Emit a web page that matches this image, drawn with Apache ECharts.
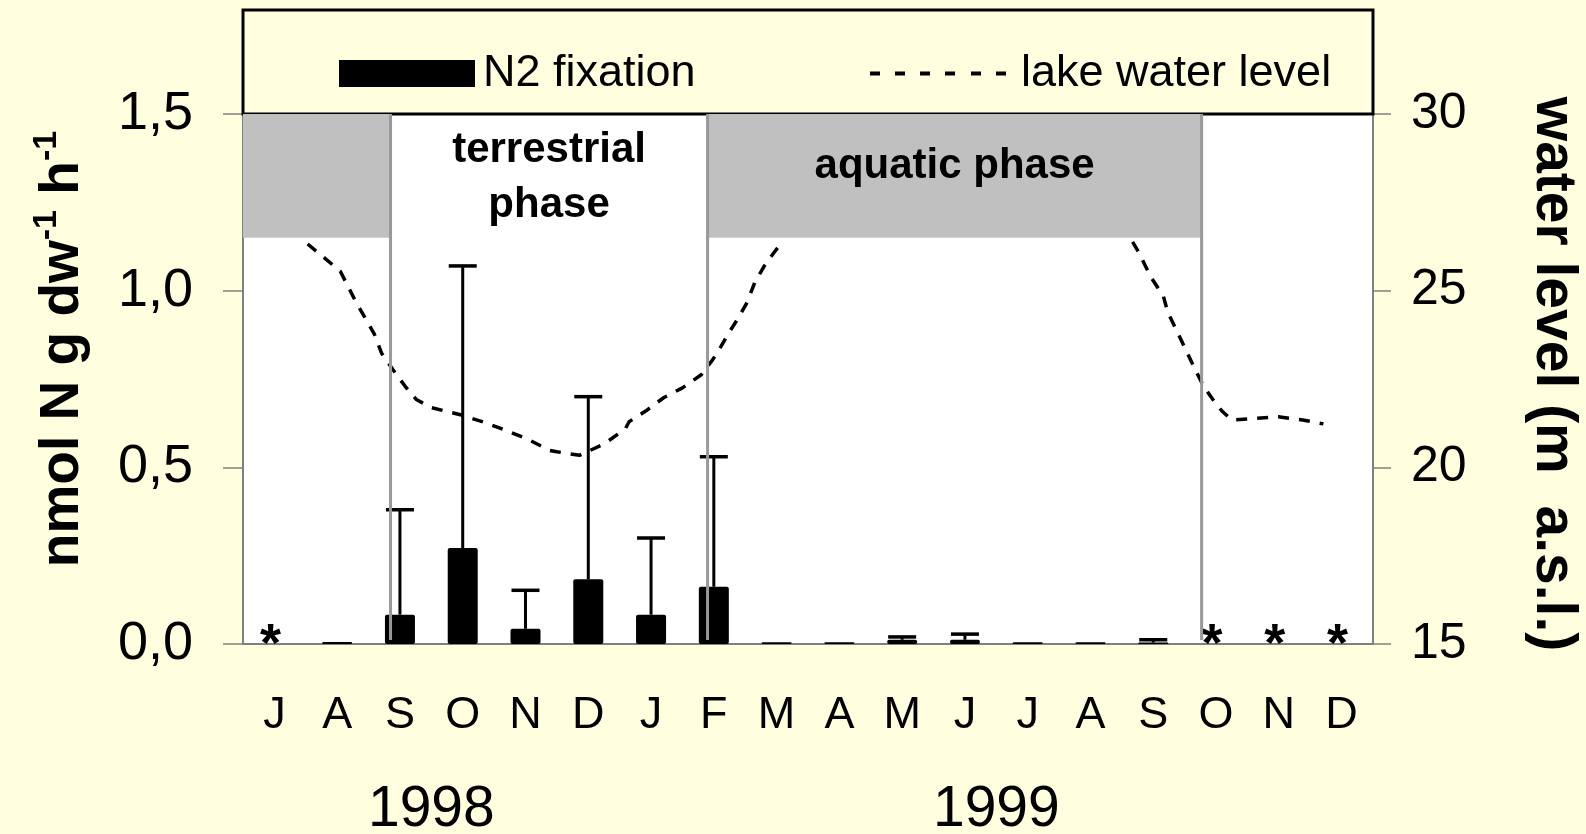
<!DOCTYPE html>
<html>
<head>
<meta charset="utf-8">
<script src="https://cdn.jsdelivr.net/npm/echarts@6/dist/echarts.min.js"></script>
<style>
html, body { margin: 0; padding: 0; background: #FFFFE0; }
#main { width: 1586px; height: 834px; }
</style>
</head>
<body>
<div id="main"></div>
<script>
var months = ['J', 'A', 'S', 'O', 'N', 'D', 'J', 'F', 'M', 'A', 'M', 'J', 'J', 'A', 'S', 'O', 'N', 'D'];
var n2Fixation = [null, 0.006, 0.083, 0.272, 0.043, 0.183, 0.083, 0.162, 0.005, 0.005, 0.012, 0.012, 0.005, 0.005, 0.004, null, null, null];
var n2ErrorTop = [null, null, 0.38, 1.07, 0.152, 0.70, 0.30, 0.53, null, null, 0.02, 0.028, null, null, 0.012, null, null, null];
var noDataMonths = [0, 15, 16, 17];

// lake water level (m a.s.l.), x in months from July 1998
var levelFalling = [
    [1.03, 26.32], [1.24, 26.01], [1.55, 25.55], [1.79, 24.71], [2.09, 23.78], [2.21, 23.22],
    [2.39, 22.76], [2.58, 22.30], [2.76, 21.92], [3.00, 21.69], [3.48, 21.48], [3.85, 21.27],
    [4.15, 21.07], [4.52, 20.81], [4.88, 20.48], [5.00, 20.44], [5.36, 20.34], [5.76, 20.67],
    [6.09, 21.09], [6.15, 21.29], [6.42, 21.60], [6.70, 21.97], [7.00, 22.25], [7.30, 22.62],
    [7.48, 23.04], [7.61, 23.41], [7.73, 23.78], [7.88, 24.20], [8.03, 24.67], [8.15, 25.22],
    [8.30, 25.69], [8.45, 26.06], [8.55, 26.29]
];
var levelAutumn = [
    [14.17, 26.38], [14.26, 26.11], [14.47, 25.36], [14.66, 24.85], [14.73, 24.39], [14.87, 23.88],
    [15.02, 23.32], [15.17, 22.76], [15.30, 22.30], [15.45, 21.92], [15.59, 21.60], [15.75, 21.34],
    [16.07, 21.38], [16.49, 21.43], [16.88, 21.34], [17.21, 21.23]
];

var phaseBounds = [0, 2.35, 7.4, 15.27, 18];
var phaseShaded = [true, false, true, false];
var phaseNames = ['', 'terrestrial\nphase', 'aquatic phase', ''];
var bandBottom = 1.15;
var yearLabels = { 3: '1998', 12: '1999' };

var font = '"Liberation Sans", Arial, sans-serif';
// dashed legend icon for the water level line
var dashIcon = 'path://M0,0h10v4h-10z M25,0h10v4h-10z M50,0h10v4h-10z M75,0h10v4h-10z M101,0h10v4h-10z M126,0h10v4h-10z';

var phaseData = [];
for (var i = 0; i < phaseNames.length; i++) {
    phaseData.push([phaseBounds[i], phaseBounds[i + 1], phaseShaded[i] ? 1 : 0, i]);
}

var errorData = [];
for (var i = 0; i < months.length; i++) {
    if (n2ErrorTop[i] != null) errorData.push([i, n2Fixation[i], n2ErrorTop[i]]);
}

var chartDom = document.getElementById('main');
var myChart = echarts.init(chartDom);
var option;

option = {
    backgroundColor: '#FFFFE0',
    animation: false,
    grid: {
        left: 243, right: 213, top: 114, bottom: 190,
        outerBoundsMode: 'none', containLabel: false,
        show: true, backgroundColor: '#ffffff', borderWidth: 0
    },
    graphic: [
        {
            type: 'rect', z: 1,
            shape: { x: 243, y: 10, width: 1130, height: 104 },
            style: { fill: '#FFFFE0', stroke: '#000', lineWidth: 3 }
        },
        {
            type: 'text', x: 63, y: 349, rotation: Math.PI / 2, z: 5,
            style: {
                text: '{b|nmol N g dw}{s|-1}{b| h}{s|-1}',
                align: 'center', verticalAlign: 'middle',
                rich: {
                    b: { fontSize: 55, fontWeight: 'bold', fontFamily: font, fill: '#000', lineHeight: 66 },
                    s: { fontSize: 34, fontWeight: 'bold', fontFamily: font, fill: '#000', verticalAlign: 'top', lineHeight: 40 }
                }
            }
        },
        {
            type: 'text', x: 1553, y: 374, rotation: -Math.PI / 2, z: 5,
            style: {
                text: 'water level (m  a.s.l.)',
                align: 'center', verticalAlign: 'middle',
                fontSize: 57, fontWeight: 'bold', fontFamily: font, fill: '#000'
            }
        }
    ],
    legend: [
        {
            data: [{ name: 'N2 fixation', icon: 'rect' }], left: 334, top: 46, z: 10,
            itemWidth: 136, itemHeight: 27,
            textStyle: { fontSize: 45, fontFamily: font, color: '#000', padding: [0, 0, 0, 3] }
        },
        {
            data: [{ name: 'lake water level', icon: dashIcon }], left: 865, top: 46, z: 10,
            itemWidth: 136, itemHeight: 4,
            itemStyle: { color: '#000', borderWidth: 0 },
            textStyle: { fontSize: 45, fontFamily: font, color: '#000', padding: [0, 0, 0, 10] }
        }
    ],
    xAxis: [
        {
            type: 'category',
            data: months,
            boundaryGap: true,
            axisLine: { lineStyle: { color: '#808080', width: 2 } },
            axisTick: { interval: 0, length: 13, lineStyle: { color: '#000', width: 1.5 } },
            axisLabel: { interval: 0, margin: 49, fontSize: 45, fontFamily: font, color: '#000' },
            splitLine: { show: false }
        },
        {
            type: 'value',
            min: 0, max: 18, interval: 3,
            position: 'bottom',
            axisLine: { show: false },
            axisTick: { show: false },
            splitLine: { show: false },
            axisLabel: {
                margin: 138, fontSize: 57, fontFamily: font, color: '#000',
                formatter: function (v) { return yearLabels[v] || ''; }
            }
        }
    ],
    yAxis: [
        {
            type: 'value',
            min: 0, max: 1.5, interval: 0.5,
            axisLine: { show: true, lineStyle: { color: '#808080', width: 2 } },
            axisTick: { show: true, length: 20, lineStyle: { color: '#808080', width: 1.5 } },
            splitLine: { show: false },
            axisLabel: {
                margin: 50, fontSize: 54, fontFamily: font, color: '#000',
                formatter: function (v) { return v.toFixed(1).replace('.', ','); }
            }
        },
        {
            type: 'value',
            position: 'right',
            min: 15, max: 30, interval: 5,
            axisLine: { show: true, lineStyle: { color: '#808080', width: 2 } },
            axisTick: { show: true, length: 18, lineStyle: { color: '#808080', width: 1.5 } },
            splitLine: { show: false },
            axisLabel: { margin: 38, fontSize: 50, fontFamily: font, color: '#000' }
        }
    ],
    series: [
        {
            name: 'N2 fixation',
            type: 'bar',
            data: n2Fixation,
            barWidth: 30,
            z: 2,
            itemStyle: { color: '#000', borderRadius: 2 }
        },
        {
            name: 'error',
            type: 'custom',
            z: 3,
            data: errorData,
            renderItem: function (params, api) {
                var base = api.coord([api.value(0), api.value(1)]);
                var top = api.coord([api.value(0), api.value(2)]);
                var half = 14;
                return {
                    type: 'group',
                    children: [
                        { type: 'line', shape: { x1: base[0], y1: base[1], x2: top[0], y2: top[1] }, style: { stroke: '#000', lineWidth: 3 } },
                        { type: 'line', shape: { x1: top[0] - half, y1: top[1], x2: top[0] + half, y2: top[1] }, style: { stroke: '#000', lineWidth: 3.5 } }
                    ]
                };
            }
        },
        {
            name: 'no data',
            type: 'scatter',
            data: noDataMonths.map(function (m) { return [m, 0]; }),
            symbolSize: 0,
            z: 4,
            itemStyle: { color: '#000', opacity: 1 },
            label: {
                show: true, position: 'inside', formatter: '*',
                fontSize: 54, fontWeight: 'bold', fontFamily: font, color: '#000',
                textBorderWidth: 0, offset: [-4, 2]
            }
        },
        {
            name: 'lake water level',
            type: 'line',
            xAxisIndex: 1, yAxisIndex: 1,
            data: levelFalling,
            symbol: 'none',
            z: 2,
            lineStyle: { color: '#000', width: 3.5, type: [11, 10] }
        },
        {
            name: 'lake water level',
            type: 'line',
            xAxisIndex: 1, yAxisIndex: 1,
            data: levelAutumn,
            symbol: 'none',
            z: 2,
            lineStyle: { color: '#000', width: 3.5, type: [11, 10] }
        },
        {
            name: 'phases',
            type: 'custom',
            xAxisIndex: 1, yAxisIndex: 0,
            z: 6,
            silent: true,
            data: phaseData,
            renderItem: function (params, api) {
                var x0 = api.value(0), x1 = api.value(1);
                var tl = api.coord([x0, 1.5]);
                var br = api.coord([x1, bandBottom]);
                var bottom = api.coord([x0, 0]);
                var children = [];
                if (api.value(2) === 1) {
                    children.push({ type: 'rect', shape: { x: tl[0], y: tl[1], width: br[0] - tl[0], height: br[1] - tl[1] }, style: { fill: '#C0C0C0' } });
                }
                var name = phaseNames[api.value(3)];
                if (name) {
                    children.push({
                        type: 'text',
                        style: {
                            text: name, x: (tl[0] + br[0]) / 2, y: (tl[1] + br[1]) / 2 + (name.indexOf('\n') < 0 ? -9 : 2),
                            align: 'center', verticalAlign: 'middle', lineHeight: 55,
                            fontSize: 42, fontWeight: 'bold', fontFamily: font, fill: '#000'
                        }
                    });
                }
                if (x0 > 0) {
                    children.push({ type: 'line', shape: { x1: tl[0], y1: tl[1], x2: tl[0], y2: bottom[1] - 4 }, style: { stroke: '#999999', lineWidth: 3 } });
                }
                return { type: 'group', children: children };
            }
        }
    ]
};

myChart.setOption(option);
</script>
</body>
</html>
